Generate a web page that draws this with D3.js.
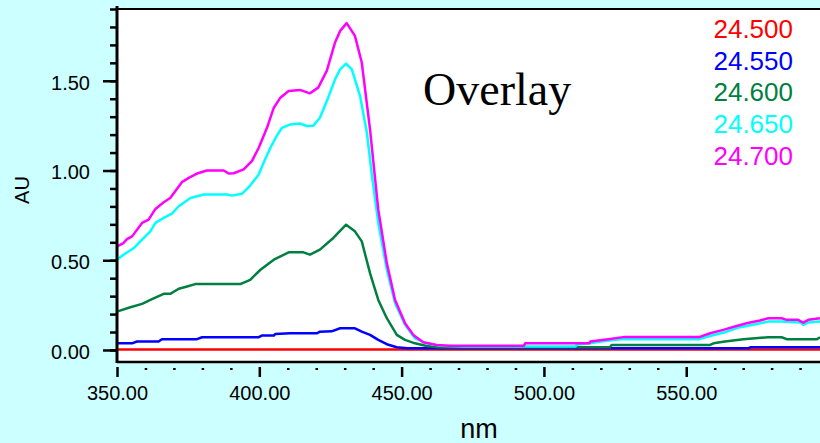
<!DOCTYPE html>
<html>
<head>
<meta charset="utf-8">
<script src="https://cdn.jsdelivr.net/npm/d3@7"></script>
<style>
  body { margin: 0; background: #ccffff; }
  svg { display: block; }
  text { font-family: Arial, "Liberation Sans", sans-serif; }
</style>
</head>
<body>
<svg id="chart" width="820" height="443"></svg>
<script>
// series labels (retention times) and colours
var seriesNames = ["24.500", "24.550", "24.600", "24.650", "24.700"];
var seriesColors = ["#ff0000", "#0000ff", "#008040", "#00ffff", "#ff00ff"];

// [nm, AU] points
var s24500 = [[350, 0.003], [597, 0.003]];

var s24550 = [[350, 0.037], [355.3, 0.037], [357.0, 0.047], [364.6, 0.047], [365.8, 0.060], [378.1, 0.060],
    [379.9, 0.071], [399.8, 0.071], [400.9, 0.080], [405.1, 0.080], [405.6, 0.089], [410.8, 0.093],
    [420.2, 0.093], [421.3, 0.102], [425.4, 0.104], [428.4, 0.121], [433.6, 0.121], [436.0, 0.102],
    [438.9, 0.084], [441.8, 0.056], [444.8, 0.032], [448.3, 0.015], [452, 0.009], [571.8, 0.009],
    [572.5, 0.015], [597, 0.015]];

var s24600 = [[350, 0.214], [354.7, 0.238], [358.8, 0.257], [362.3, 0.283], [366.4, 0.313], [368.7, 0.313],
    [371.7, 0.341], [374.6, 0.354], [377.5, 0.367], [393.3, 0.367], [396.8, 0.391], [400.4, 0.447],
    [405.1, 0.503], [410.3, 0.544], [415.5, 0.544], [417.8, 0.531], [421.3, 0.559], [426.0, 0.624],
    [430.5, 0.698], [433.6, 0.661], [436.0, 0.605], [438.9, 0.428], [441.8, 0.279], [444.8, 0.177],
    [448.3, 0.084], [451.2, 0.056], [454.7, 0.037], [458.8, 0.022], [463, 0.015], [523.2, 0.015],
    [523.8, 0.028], [558.4, 0.028], [559.6, 0.037], [563.6, 0.047], [570.1, 0.060], [578.8, 0.071],
    [583.5, 0.071], [585.3, 0.060], [595.9, 0.060], [597, 0.071]];

var s24650 = [[350, 0.503], [352.3, 0.531], [355.9, 0.568], [358.2, 0.605], [361.7, 0.661], [363.5, 0.708],
    [366.4, 0.736], [369.3, 0.760], [371.7, 0.801], [375.8, 0.847], [380.5, 0.866], [388.7, 0.866],
    [390.4, 0.860], [393.9, 0.870], [396.8, 0.916], [399.8, 0.978], [401.5, 1.043], [403.9, 1.127],
    [406.2, 1.196], [408.0, 1.238], [410.9, 1.257], [414.3, 1.262], [416.6, 1.248], [419.0, 1.250],
    [421.3, 1.294], [424.2, 1.406], [426.6, 1.508], [428.4, 1.564], [430.5, 1.596], [432.5, 1.564],
    [435.4, 1.415], [437.8, 1.210], [439.6, 0.968], [441.8, 0.708], [444.8, 0.447], [447.7, 0.261],
    [451.2, 0.140], [454.7, 0.065], [458.8, 0.037], [463.5, 0.024], [471.7, 0.019], [511.0, 0.019],
    [511.6, 0.030], [516.3, 0.037], [520, 0.047], [526.8, 0.060], [554.3, 0.060], [558.4, 0.078],
    [564.2, 0.102], [568.9, 0.127], [574.7, 0.145], [578.8, 0.158], [583.5, 0.158], [590.2, 0.153],
    [591.1, 0.140], [592.9, 0.153], [597, 0.158]];

var s24700 = [[350, 0.577], [352.3, 0.596], [353.5, 0.618], [355.3, 0.633], [358.8, 0.708], [361.1, 0.726],
    [363.5, 0.786], [366.4, 0.823], [368.7, 0.847], [372.8, 0.935], [375.2, 0.959], [378.1, 0.983],
    [381.6, 1.000], [387.5, 1.000], [389.2, 0.983], [391.0, 0.985], [394.5, 1.006], [397.4, 1.052],
    [399.8, 1.127], [402.7, 1.238], [405.1, 1.350], [407.4, 1.406], [410.3, 1.443], [414.3, 1.449],
    [417.8, 1.430], [420.7, 1.462], [423.7, 1.555], [426.6, 1.713], [428.4, 1.778], [430.7, 1.821],
    [433.6, 1.750], [436.0, 1.602], [438.9, 1.229], [441.8, 0.782], [444.8, 0.484], [447.7, 0.279],
    [451.2, 0.149], [454.1, 0.084], [457.6, 0.043], [462.3, 0.028], [466.8, 0.024], [493.0, 0.024],
    [493.4, 0.037], [516.0, 0.037], [516.3, 0.047], [522.6, 0.060], [528.5, 0.073], [554.8, 0.073],
    [558.4, 0.093], [563.0, 0.112], [567.7, 0.134], [571.2, 0.149], [575.9, 0.164], [578.8, 0.177],
    [583.5, 0.177], [585.3, 0.168], [589.3, 0.168], [591.1, 0.153], [592.9, 0.168], [597, 0.177]];

var seriesData = [s24500, s24550, s24600, s24650, s24700];

// axis ticks
var yMajorTicks = [0, 0.5, 1.0, 1.5];
var yMinorTicks = [0, 0.1, 0.2, 0.3, 0.4, 0.5, 0.6, 0.7, 0.8, 0.9, 1.0, 1.1, 1.2, 1.3, 1.4, 1.5, 1.6, 1.7, 1.8, 1.9];
var xMajorTicks = [350, 400, 450, 500, 550];
var xMinorTicks = [360, 370, 380, 390, 410, 420, 430, 440, 460, 470, 480, 490, 510, 520, 530, 540, 560, 570, 580, 590];

var plotLeft = 117, plotRight = 820, plotTop = 9, plotBottom = 362;

var svg = d3.select("#chart");

var x = d3.scaleLinear().domain([350, 597]).range([plotLeft, plotRight]);
var y = d3.scaleLinear().domain([-0.067, 1.9]).range([plotBottom, plotTop]);

svg.append("rect")
    .attr("width", 820).attr("height", 443)
    .attr("fill", "#ccffff");

svg.append("rect")
    .attr("x", plotLeft).attr("y", plotTop)
    .attr("width", plotRight - plotLeft).attr("height", plotBottom - plotTop)
    .attr("fill", "#ffffff");

svg.append("clipPath").attr("id", "clip")
    .append("rect")
    .attr("x", plotLeft + 1).attr("y", plotTop)
    .attr("width", plotRight - plotLeft).attr("height", plotBottom - plotTop - 1);

// spectra
var line = d3.line()
    .x(function (d) { return x(d[0]); })
    .y(function (d) { return y(d[1]); });

svg.append("g").attr("clip-path", "url(#clip)")
    .selectAll("path")
    .data(seriesData)
    .join("path")
    .attr("d", line)
    .attr("fill", "none")
    .attr("stroke", function (d, i) { return seriesColors[i]; })
    .attr("stroke-width", 2.5)
    .attr("stroke-linejoin", "round");

// y axis
var gYMinor = svg.append("g")
    .attr("transform", "translate(" + plotLeft + ",0)")
    .call(d3.axisLeft(y).tickValues(yMinorTicks).tickSize(7).tickFormat(""));
gYMinor.select(".domain").remove();

var gY = svg.append("g")
    .attr("transform", "translate(" + plotLeft + ",0)")
    .call(d3.axisLeft(y).tickValues(yMajorTicks).tickSize(14).tickPadding(13).tickFormat(d3.format(".2f")));
gY.select(".domain").remove();

svg.selectAll("g line").attr("stroke", "#000").attr("stroke-width", 2.5);
gY.selectAll("text")
    .attr("font-size", 20)
    .attr("font-family", "Arial, 'Liberation Sans', sans-serif")
    .attr("fill", "#000")
    .attr("dy", "0.42em");

// x axis (ticks hang a little below the axis line)
var gXMinor = svg.append("g")
    .attr("transform", "translate(0," + (plotBottom + 6) + ")")
    .call(d3.axisBottom(x).tickValues(xMinorTicks).tickSize(2).tickFormat(""));
gXMinor.select(".domain").remove();
gXMinor.selectAll("line").attr("stroke", "#000").attr("stroke-width", 2.5);

var gX = svg.append("g")
    .attr("transform", "translate(0," + (plotBottom + 5) + ")")
    .call(d3.axisBottom(x).tickValues(xMajorTicks).tickSize(10).tickPadding(9).tickFormat(d3.format(".2f")));
gX.select(".domain").remove();
gX.selectAll("line").attr("stroke", "#000").attr("stroke-width", 2.5);
gX.selectAll("text")
    .attr("font-size", 20)
    .attr("font-family", "Arial, 'Liberation Sans', sans-serif")
    .attr("fill", "#000");

// frame lines
svg.append("line")
    .attr("x1", plotLeft).attr("x2", plotLeft)
    .attr("y1", plotTop - 3).attr("y2", plotBottom + 1)
    .attr("stroke", "#000").attr("stroke-width", 3);
svg.append("line")
    .attr("x1", plotLeft).attr("x2", plotRight)
    .attr("y1", plotBottom).attr("y2", plotBottom)
    .attr("stroke", "#000").attr("stroke-width", 2.5);
svg.append("line")
    .attr("x1", plotLeft).attr("x2", plotRight)
    .attr("y1", plotTop).attr("y2", plotTop)
    .attr("stroke", "#000").attr("stroke-width", 2);

// axis titles
svg.append("text")
    .attr("transform", "translate(29,190) rotate(-90)")
    .attr("text-anchor", "middle")
    .attr("font-size", 20)
    .text("AU");

svg.append("text")
    .attr("x", 479).attr("y", 438)
    .attr("text-anchor", "middle")
    .attr("font-size", 27)
    .text("nm");

svg.append("text")
    .attr("x", 423).attr("y", 105)
    .attr("font-size", 46)
    .style("font-family", "'Liberation Serif', 'Times New Roman', serif")
    .text("Overlay");

// legend
svg.append("g")
    .selectAll("text")
    .data(seriesNames)
    .join("text")
    .attr("x", 793)
    .attr("y", function (d, i) { return 38 + i * 31.7; })
    .attr("text-anchor", "end")
    .attr("font-size", 26)
    .attr("fill", function (d, i) { return seriesColors[i]; })
    .text(function (d) { return d; });
</script>
</body>
</html>
